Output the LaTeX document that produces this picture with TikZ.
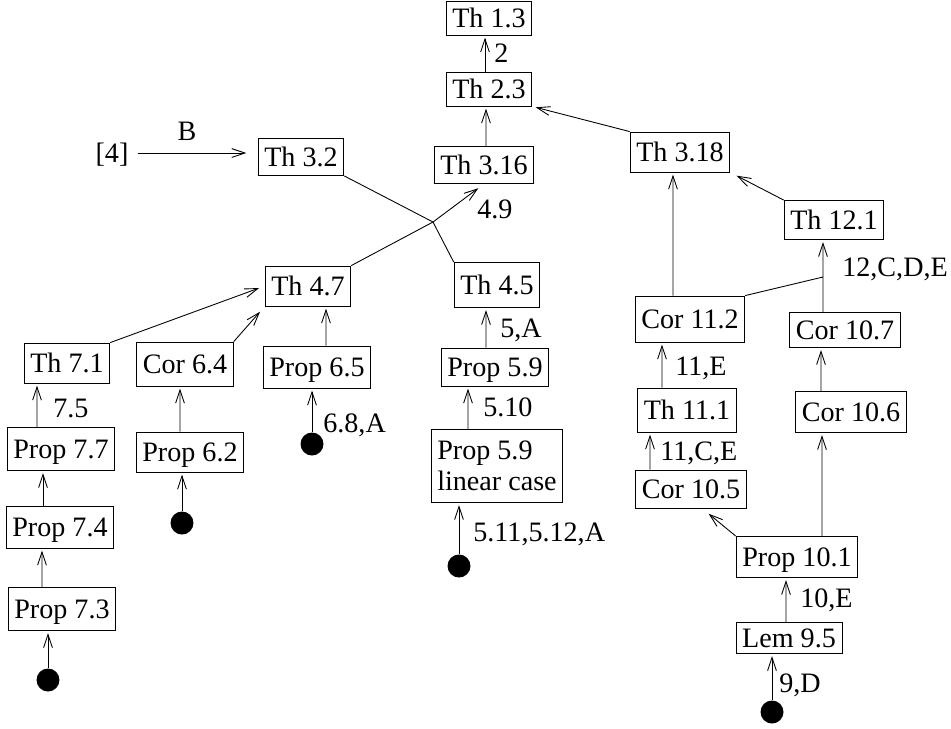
\documentclass[tikz,border=0pt]{standalone}
\usepackage{fontspec}
\setmainfont{Liberation Serif}
\usetikzlibrary{calc,arrows.meta}

\begin{document}
\begin{tikzpicture}[x=0.02cm,y=-0.02cm,font=\fontsize{16}{18}\selectfont,
	box/.style={draw,line width=0.5pt,inner xsep=3.5pt,inner ysep=0pt,minimum height=0.8cm},
	res/.style={box,text height=11pt,text depth=0pt},
	dep/.style={line width=0.5pt,-{Straight Barb[length=7.5pt,width=5pt]},shorten >=1.2pt},
	lnk/.style={line width=0.5pt},
	lbl/.style={anchor=west,inner sep=0pt,text height=11pt,text depth=0pt},
	dot/.style={circle,fill,inner sep=0pt,minimum size=0.46cm}]
	\begin{scope}
\useasboundingbox (0,0) rectangle (951,728);

\node[res,minimum height=0.68cm] (t13) at (489,18) {Th 1.3};
\node[res,minimum height=0.68cm] (t23) at (489,89) {Th 2.3};
\node[res,minimum height=0.74cm] (t316) at (484,165) {Th 3.16};
\node[res] (t318) at (680,152) {Th 3.18};
\node[res,minimum height=0.78cm] (t121) at (834,220) {Th 12.1};
\node[res,minimum height=0.74cm] (t32) at (301,157) {Th 3.2};
\node[res] (t47) at (308,286) {Th 4.7};
\node[res,minimum height=0.9cm] (t45) at (497,285) {Th 4.5};
\node[res] (t71) at (67,363) {Th 7.1};
\node[res,minimum height=0.88cm] (c64) at (185,364) {Cor 6.4};
\node[res,minimum height=0.84cm] (p65) at (317,367) {Prop 6.5};
\node[res,minimum height=0.76cm] (p59) at (495,367) {Prop 5.9};
\node[box,align=left,minimum height=1.46cm] (p59l) at (497,466) {Prop 5.9\\linear case};
\node[res,minimum height=0.92cm] (c112) at (690,319) {Cor 11.2};
\node[res,minimum height=0.7cm] (c107) at (845,330) {Cor 10.7};
\node[res,minimum height=0.88cm] (t111) at (687,410) {Th 11.1};
\node[res,minimum height=0.76cm] (c105) at (691,489) {Cor 10.5};
\node[res,minimum height=0.82cm] (c106) at (851,412) {Cor 10.6};
\node[res,minimum height=0.82cm] (p101) at (797,557) {Prop 10.1};
\node[res,minimum height=0.62cm] (l95) at (789,638) {Lem 9.5};
\node[res,minimum height=0.86cm] (p77) at (61,449) {Prop 7.7};
\node[res,minimum height=0.84cm] (p74) at (60,527) {Prop 7.4};
\node[res,minimum height=0.86cm] (p73) at (62,609) {Prop 7.3};
\node[res] (p62) at (190,452) {Prop 6.2};

\node[dot] (d73) at (48,680) {};
\node[dot] (d62) at (182,523) {};
\node[dot] (d65) at (312,444) {};
\node[dot] (d59) at (459,566) {};
\node[dot] (d95) at (772,712) {};

\node[inner sep=5pt,text height=11pt,text depth=0pt] (r4) at (112,153) {[4]};
\node (nb) at (187,131) {B};
\coordinate (j1) at (433,222);
\coordinate (j2) at (823,277);

\draw[dep] (r4.east) -- (r4.east -| t32.west) [shorten >=6.5pt];
\draw[dep] ([xshift=-0.08cm]t23.north) -- ([xshift=-0.08cm]t13.south);
\draw[dep] ([xshift=0.04cm]t316.north) -- ([xshift=-0.06cm]t23.south);
\draw[dep,shorten >=2pt] (t318.north west) -- (t23.south east);
\draw[dep,shorten >=4pt] (t121.north west) -- (t318.south east);
\draw[dep] ([xshift=-0.34cm]c112.north) -- ([xshift=-0.14cm]t318.south);
\draw[lnk] ([xshift=-0.44cm]c107.north) -- (j2);
\draw[dep] (j2) -- ([xshift=-0.22cm]t121.south);
\draw[lnk] (c112.north east) -- (j2);

\draw[lnk] (t32.south east) -- (j1) -- (t45.north west);
\draw[lnk] (t47.north east) -- (j1);
\draw[dep,shorten >=4pt] (j1) -- (t316.south);

\draw[dep,shorten >=3.4pt] (t71.north east) -- (t47.west);
\draw[dep,shorten >=4pt] (c64.north east) -- (t47.south west);
\draw[dep] ([xshift=0.18cm]p65.north) -- ([xshift=0.36cm]t47.south);
\draw[dep] (d65) -- (d65 |- p65.south);

\draw[dep] ([xshift=-0.48cm]p77.north) -- ([xshift=-0.6cm]t71.south);
\draw[dep] ([xshift=-0.34cm]p74.north) -- ([xshift=-0.36cm]p77.south);
\draw[dep] ([xshift=-0.4cm]p73.north) -- ([xshift=-0.36cm]p74.south);
\draw[dep] (d73) -- (d73 |- p73.south);
\draw[dep] ([xshift=-0.2cm]p62.north) -- ([xshift=-0.1cm]c64.south);
\draw[dep] (d62) -- (d62 |- p62.south);

\draw[dep] ([xshift=-0.18cm]p59.north) -- ([xshift=-0.22cm]t45.south);
\draw[dep] ([xshift=-0.58cm]p59l.north) -- ([xshift=-0.54cm]p59.south);
\draw[dep] (d59) -- (d59 |- p59l.south);

\draw[dep] ([xshift=-0.5cm]t111.north) -- ([xshift=-0.56cm]c112.south);
\draw[dep] ([xshift=-0.82cm]c105.north) -- ([xshift=-0.74cm]t111.south);
\draw[dep] ([xshift=-0.6cm]c106.north) -- ([xshift=-0.48cm]c107.south);
\draw[dep] ([xshift=0.5cm]p101.north) -- ([xshift=-0.58cm]c106.south);
\draw[dep] (p101.north west) -- ($(c105.south)+(16,4)$);
\draw[dep] ([xshift=-0.06cm]l95.north) -- ([xshift=-0.22cm]p101.south);
\draw[dep] (d95) -- (d95 |- l95.south);

\node[lbl] (n2) at (494,53) {2};
\node[lbl] (n49) at (477,209) {4.9};
\node[lbl] (n75) at (53,408) {7.5};
\node[lbl] (n68) at (323,423) {6.8,A};
\node[lbl] (n5a) at (500,328) {5,A};
\node[lbl] (n510) at (483,407) {5.10};
\node[lbl] (n511) at (473,532) {5.11,5.12,A};
\node[lbl] (n12) at (842,267) {12,C,D,E};
\node[lbl] (n11e) at (675,366) {11,E};
\node[lbl] (n11ce) at (660,451) {11,C,E};
\node[lbl] (n10e) at (800,598) {10,E};
\node[lbl] (n9d) at (779,683) {9,D};

	\end{scope}
\end{tikzpicture}
\end{document}
